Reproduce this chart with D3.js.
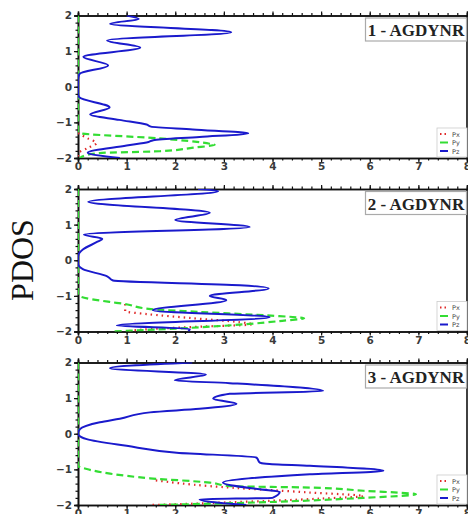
<!DOCTYPE html>
<html>
<head>
<meta charset="utf-8">
<script src="https://cdn.jsdelivr.net/npm/d3@7"></script>
<style>
  body { margin: 0; background: #fff; }
  svg { display: block; }
</style>
</head>
<body>
<div id="chart-area"></div>
<script>
// tick labels and names
const xTicks = [0, 1, 2, 3, 4, 5, 6, 7, 8];
const yTicks = [-2, -1, 0, 1, 2];
const panelNames = ["1 - AGDYNR", "2 - AGDYNR", "3 - AGDYNR"];
const seriesNames = ["Px", "Py", "Pz"];

// panel 1 (energy, pdos)
const p1PxE = [-1.3, -1.45, -1.58, -1.72, -1.88, -2.0];
const p1PxD = [0, 0.2, 0.38, 0.2, 0, 0];
const p1PyE = [2.0, -1.25, -1.3, -1.45, -1.6, -1.63, -1.71, -1.81, -1.86, -1.93, -2.0];
const p1PyD = [0, 0, 0.04, 1.68, 2.71, 2.81, 2.37, 1.68, 0.45, 0.15, 0.04];
const p1PzE = [2.0, 1.9, 1.77, 1.53, 1.3, 1.1, 0.84, 0.6, 0.36, 0.2, -0.2, -0.3, -0.58, -0.78, -0.93, -1.06, -1.12, -1.2, -1.31, -1.41, -1.5, -1.55, -1.65, -1.85, -2.0];
const p1PzD = [1.0, 1.25, 0.66, 3.15, 0.6, 1.28, 0.11, 0.62, 0.03, 0, 0, 0.03, 0.65, 0.25, 0.85, 1.41, 1.5, 2.36, 3.5, 2.5, 1.55, 1.45, 1.0, 0.2, 0.86];

// panel 2
const p2PxE = [-1.23, -1.43, -1.51, -1.62, -1.74, -1.8, -1.86, -1.93, -2.0];
const p2PxD = [0.97, 0.97, 1.41, 2.3, 3.33, 3.6, 2.6, 1.5, 0.97];
const p2PyE = [2.0, -0.95, -1.02, -1.17, -1.22, -1.37, -1.45, -1.55, -1.63, -1.7, -1.8, -1.92, -2.0];
const p2PyD = [0, 0, 0.05, 0.65, 0.93, 1.5, 2.5, 3.9, 4.65, 4.2, 3.4, 2.0, 0.7];
const p2PzE = [2.0, 1.94, 1.64, 1.33, 1.13, 0.93, 0.72, 0.6, 0.52, 0.3, 0.1, -0.1, -0.25, -0.45, -0.57, -0.7, -0.79, -1.0, -1.12, -1.4, -1.6, -1.83, -1.93, -2.0];
const p2PzD = [2.47, 2.88, 0.21, 2.71, 2.0, 3.53, 0.12, 0.5, 0.4, 0.1, 0, 0, 0.1, 0.6, 0.72, 3.33, 3.92, 2.71, 3.05, 1.54, 3.94, 0.8, 2.3, 2.27];

// panel 3
const p3PxE = [-1.31, -1.47, -1.65, -1.75, -1.82, -1.88, -1.93, -1.98, -2.0];
const p3PxD = [1.6, 2.71, 4.77, 5.87, 5.0, 4.0, 3.0, 2.0, 1.5];
const p3PyE = [2.0, -0.9, -0.99, -1.12, -1.25, -1.37, -1.47, -1.51, -1.6, -1.7, -1.8, -1.95, -2.0];
const p3PyD = [0, 0, 0.18, 0.66, 1.48, 2.71, 3.12, 4.77, 5.87, 6.95, 5.87, 3.12, 1.6];
const p3PzE = [2.0, 1.84, 1.66, 1.5, 1.42, 1.2, 1.12, 0.98, 0.84, 0.7, 0.6, 0.42, 0.32, 0.13, 0.0, -0.15, -0.34, -0.53, -0.67, -0.81, -0.84, -0.9, -1.04, -1.14, -1.37, -1.56, -1.63, -1.8, -1.84, -1.94, -2.0];
const p3PzD = [2.35, 0.66, 2.63, 1.99, 3.12, 5.04, 3.12, 2.78, 3.26, 2.5, 1.48, 0.86, 0.45, 0.04, 0.0, 0.18, 1.0, 2.03, 3.67, 3.74, 3.87, 4.77, 6.28, 4.77, 2.98, 3.74, 4.15, 4.0, 2.5, 2.9, 3.46];

const panels = [
    [[p1PxE, p1PxD], [p1PyE, p1PyD], [p1PzE, p1PzD]],
    [[p2PxE, p2PxD], [p2PyE, p2PyD], [p2PzE, p2PzD]],
    [[p3PxE, p3PxD], [p3PyE, p3PyD], [p3PzE, p3PzD]]
];

const colors = ["#e02a2a", "#33dd33", "#1a1acc"];
const dashes = ["1.5,4", "7,4", null];

const width = 468, height = 514;
const left = 78, right = 467, plotH = 142.5;

const svg = d3.select("#chart-area")
    .append("svg")
        .attr("width", width)
        .attr("height", height);

const x = d3.scaleLinear().domain([0, 8]).range([left, right]);

panels.forEach((series, i) => {
    const top = 15.5 + i * 173.5;
    const y = d3.scaleLinear().domain([-2, 2]).range([top + plotH, top]);
    const g = svg.append("g");

    g.append("clipPath")
        .attr("id", "clip" + i)
        .append("rect")
            .attr("x", left)
            .attr("y", top)
            .attr("width", right - left)
            .attr("height", plotH);

    // axes with minor ticks
    const minorX = d3.range(0, 8.01, 0.2);
    const minorY = d3.range(-2, 2.01, 0.2);
    g.append("g").attr("transform", `translate(0,${top + plotH})`)
        .call(d3.axisBottom(x).tickValues(minorX).tickSize(2.5).tickFormat(""));
    g.append("g").attr("transform", `translate(0,${top})`)
        .call(d3.axisTop(x).tickValues(minorX).tickSize(2.5).tickFormat(""));
    g.append("g").attr("transform", `translate(${left},0)`)
        .call(d3.axisLeft(y).tickValues(minorY).tickSize(2.5).tickFormat(""));

    g.append("g").attr("transform", `translate(0,${top + plotH})`)
        .call(d3.axisBottom(x).tickValues(xTicks).tickSize(4).tickPadding(1).tickFormat(d3.format("d")));
    g.append("g").attr("transform", `translate(0,${top})`)
        .call(d3.axisTop(x).tickValues(xTicks).tickSize(4).tickFormat(""));
    g.append("g").attr("transform", `translate(${left},0)`)
        .call(d3.axisLeft(y).tickValues(yTicks).tickSize(4).tickPadding(2).tickFormat(d3.format("d")));

    g.selectAll(".domain").attr("stroke", "#111").attr("stroke-width", 1.6);
    g.selectAll(".tick line").attr("stroke", "#111").attr("stroke-width", 1.2);
    g.selectAll(".tick text")
        .attr("fill", "#3a3a3a")
        .style("font-family", "'DejaVu Sans', sans-serif")
        .style("font-weight", "bold")
        .style("font-size", "10.5px");

    g.append("line")
        .attr("x1", right).attr("x2", right)
        .attr("y1", top).attr("y2", top + plotH)
        .attr("stroke", "#111").attr("stroke-width", 1.6);

    // curves
    const line = d3.line()
        .x((d) => x(d[1]))
        .y((d) => y(d[0]))
        .curve(d3.curveMonotoneY);

    const curves = g.append("g").attr("clip-path", `url(#clip${i})`);
    series.forEach((s, k) => {
        const pts = s[0].map((e, j) => [e, s[1][j]]);
        curves.append("path")
            .datum(pts)
            .attr("d", line)
            .attr("fill", "none")
            .attr("stroke", colors[k])
            .attr("stroke-width", k === 2 ? 2 : 2.2)
            .attr("stroke-dasharray", dashes[k]);
    });

    // title box
    g.append("rect")
        .attr("x", 365.5).attr("y", top + 2.5)
        .attr("width", 101).attr("height", 23)
        .attr("fill", "#fff")
        .attr("stroke", "#aaa")
        .attr("stroke-width", 1.2);
    g.append("text")
        .attr("x", 416).attr("y", top + 20.5)
        .attr("text-anchor", "middle")
        .style("font-family", "'Liberation Serif', serif")
        .style("font-size", "17px")
        .style("font-weight", "bold")
        .attr("fill", "#222")
        .text(panelNames[i]);

    // legend
    const lg = g.append("g").attr("transform", `translate(437,${top + plotH - 30})`);
    lg.append("rect")
        .attr("width", 30).attr("height", 29)
        .attr("fill", "#fff")
        .attr("stroke", "#ccc")
        .attr("stroke-width", 0.8);
    seriesNames.forEach((n, k) => {
        lg.append("line")
            .attr("x1", 3).attr("x2", 11)
            .attr("y1", 6 + k * 8.5).attr("y2", 6 + k * 8.5)
            .attr("stroke", colors[k])
            .attr("stroke-width", 2)
            .attr("stroke-dasharray", k === 0 ? "1.5,3" : null);
        lg.append("text")
            .attr("x", 15).attr("y", 8.5 + k * 8.5)
            .style("font-family", "'DejaVu Sans', sans-serif")
            .style("font-size", "6.5px")
            .attr("fill", "#444")
            .text(n);
    });
});

// y title
svg.append("text")
    .attr("transform", "translate(33,260) rotate(-90)")
    .attr("text-anchor", "middle")
    .style("font-family", "'Liberation Serif', serif")
    .style("font-size", "32px")
    .attr("fill", "#111")
    .text("PDOS");
</script>
</body>
</html>
